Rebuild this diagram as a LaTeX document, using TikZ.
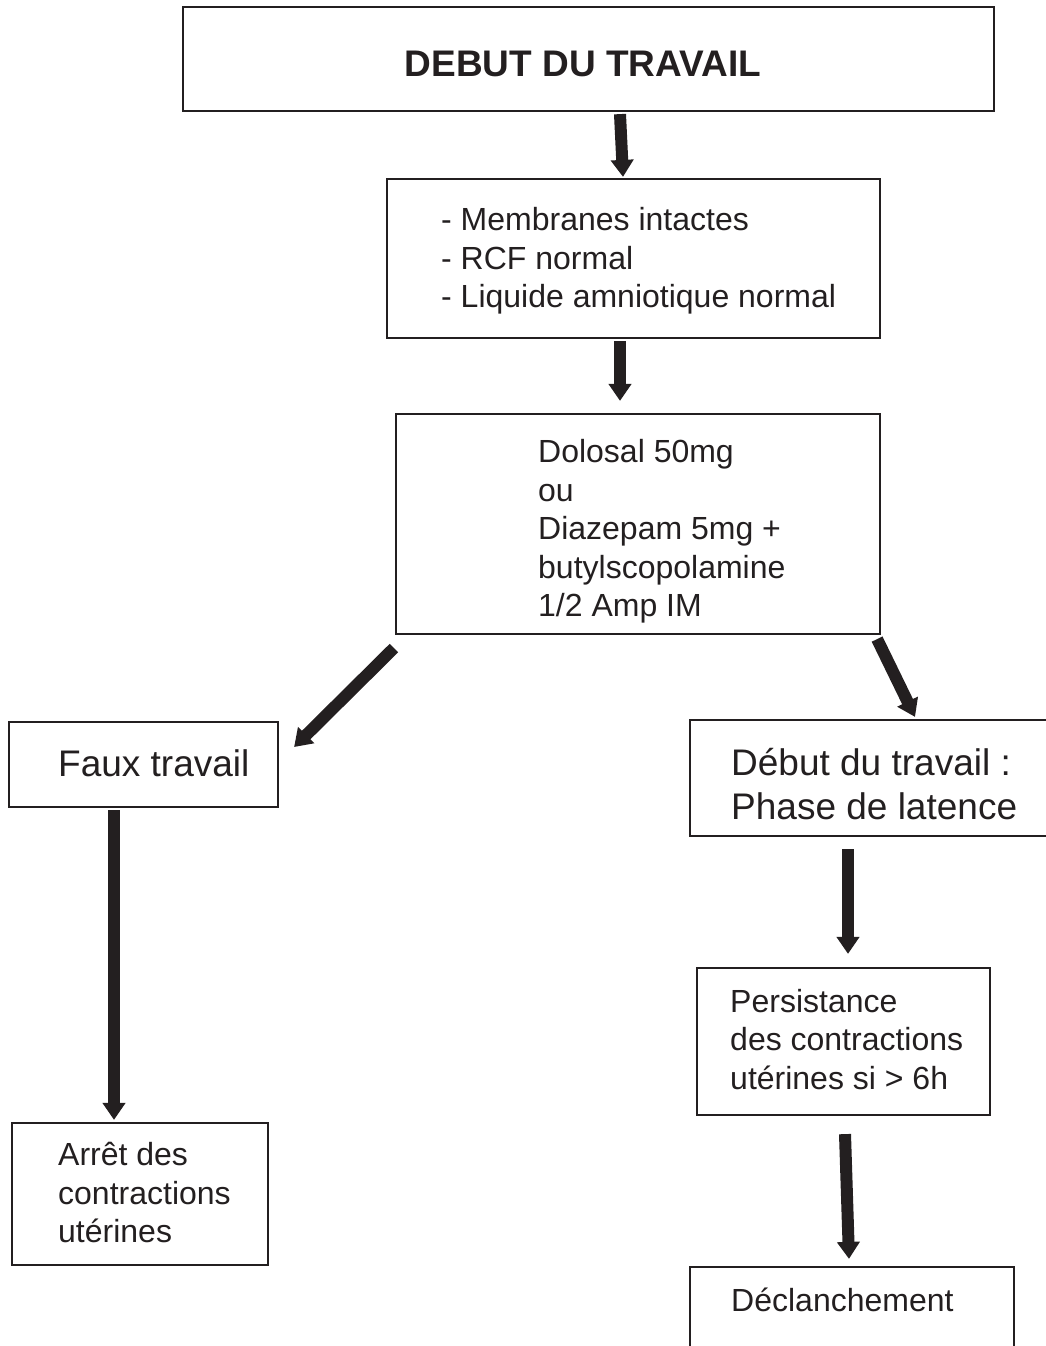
\documentclass[tikz,border=0pt]{standalone}
\usepackage{fontspec}
\setmainfont{Liberation Sans}
\usetikzlibrary{arrows.meta,calc}
\definecolor{ink}{HTML}{231F20}
\begin{document}
\begin{tikzpicture}[x=1pt,y=-1pt,
  box/.style={draw=ink, line width=2.2pt, inner sep=0pt},
  txt/.style={inner sep=0pt, anchor=west, align=left, text=ink,
    font=\fontsize{32}{38.5}\selectfont},
  big/.style={txt, font=\fontsize{37}{44}\selectfont},
  arr/.style={draw=ink, line width=12pt, -{Triangle[width=22pt,length=17pt]}}]
\useasboundingbox (0,0) rectangle (1045,1346);

% boxes
\node[box, minimum width=811pt, minimum height=104pt] (top) at (588.5,59) {};
\node[box, minimum width=493pt, minimum height=159pt] (mem) at (633.5,258.5) {};
\node[box, minimum width=484pt, minimum height=220pt] (dol) at (638,524) {};
\node[box, minimum width=269pt, minimum height=85pt]  (faux) at (143.5,764.5) {};
\node[box, minimum width=370pt, minimum height=116pt] (deb) at (875,778) {};
\node[box, minimum width=293pt, minimum height=147pt] (per) at (843.5,1041.5) {};
\node[box, minimum width=256pt, minimum height=142pt] (arret) at (140,1194) {};
\node[box, minimum width=324pt, minimum height=93pt]  (dec) at (852,1313.5) {};

% texts
\node[inner sep=0pt, text=ink, font=\fontsize{37}{44}\selectfont\bfseries] (topt) at (583,64) {DEBUT DU TRAVAIL};
\node[txt] (memt) at (441,261) {- Membranes intactes\\- RCF normal\\- Liquide amniotique normal};
\node[txt] (dolt) at (538,531.5) {Dolosal 50mg\\ou\\Diazepam 5mg +\\butylscopolamine\\1/2 Amp IM};
\node[big] (fauxt) at (58,763) {Faux travail};
\node[big] (debt) at (731,784) {Début du travail :\\Phase de latence};
\node[txt] (pert) at (730,1039.5) {Persistance\\des contractions\\utérines si > 6h};
\node[txt] (arrett) at (58,1192.5) {Arrêt des\\contractions\\utérines};
\node[txt] (dect) at (731,1300) {Déclanchement};

% connectors
\draw[arr] ($(top.south)+(31.5,2)$) -- ($(mem.north)+(-10.5,-1)$);
\draw[arr] ($(mem.south)+(-13.5,2)$) -- ($(dol.north)+(-18,-12)$);
\draw[arr] ($(dol.south west)+(-1,13)$) -- ($(faux.east)+(15,-17.5)$);
\draw[arr] ($(dol.south east)+(-4,4)$) -- ($(deb.north)+(40,-2)$);
\draw[arr] ($(faux.south)+(-29.5,2)$) -- ($(arret.north)+(-26,-2)$);
\draw[arr] ($(deb.south)+(-27,12)$) -- ($(per.north)+(4.5,-13)$);
\draw[arr] ($(per.south)+(1.5,18)$) -- ($(dec.north)+(-3,-7)$);
\end{tikzpicture}
\end{document}
